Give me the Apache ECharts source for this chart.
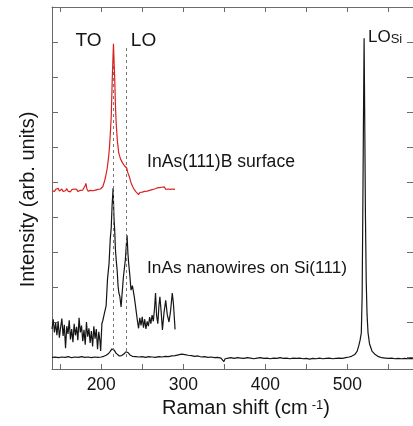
<!DOCTYPE html>
<html>
<head>
<meta charset="utf-8">
<script src="https://cdn.jsdelivr.net/npm/echarts@6/dist/echarts.min.js"></script>
<style>
  html, body { margin: 0; padding: 0; background: #fff; }
  #chart { width: 413px; height: 426px; }
</style>
</head>
<body>
<div id="chart"></div>
<script>
// Raman spectra: [shift (cm^-1), intensity (arb. units, offset)]
const surfaceSpectrum = [
  [140,4.75],[141.5,4.80],[143,4.73],[144.5,4.79],[146,4.76],[147.5,4.82],[149,4.74],[150.5,4.78],[152,4.80],
  [153.5,4.73],[155,4.78],[156.5,4.75],[158,4.81],[159.5,4.74],[161,4.77],[162.5,4.72],[164,4.78],[165.5,4.75],
  [167,4.80],[168.5,4.76],[170,4.79],[171.5,4.73],[173,4.78],[174.5,4.76],[176,4.81],[177.5,4.77],[179,4.82],
  [180.5,4.90],[181.3,4.96],[182.5,4.80],[184,4.74],[185.5,4.70],[187,4.76],[188.5,4.71],[190,4.75],[191.5,4.72],
  [193,4.77],[194.5,4.74],[196,4.79],[197.5,4.77],[199,4.80],[200.5,4.83],[202,4.87],[204,5.02],[205.3,5.15],
  [207,5.35],[208.1,5.54],[209.2,5.76],[210.1,6.01],[211.2,6.43],[212.2,6.87],[213.4,7.91],[214.9,8.95],
  [216.5,7.91],[217.3,7.21],[218.2,6.69],[219.7,6.17],[221.3,5.83],[223.5,5.66],[226.2,5.54],[228,5.47],
  [229.4,5.51],[231,5.40],[232.5,5.26],[234.3,5.15],[236.3,4.98],[238.3,4.87],[240.3,4.78],[242.4,4.72],
  [244,4.69],[245.5,4.64],[247,4.70],[248.5,4.66],[250,4.71],[251.5,4.67],[253,4.73],[254.5,4.69],[256,4.74],
  [257.5,4.70],[259,4.76],[260.5,4.73],[262,4.78],[263.5,4.74],[265,4.80],[266.5,4.77],[268,4.83],[269.5,4.78],
  [271,4.84],[272.5,4.80],[274,4.85],[275.5,4.81],[277,4.86],[278.5,4.79],[280,4.84],[281.5,4.80],[283,4.85],
  [284.5,4.79],[286,4.83],[287.5,4.80],[289,4.82],[290,4.79]
];

const nanowireSpectrum = [
  [140,0.80],[141.5,1.08],[143,0.70],[144.5,0.98],[146,0.62],[147.5,1.02],[149,0.55],[150.5,0.85],[152,1.10],
  [153.5,0.60],[155,0.92],[156.5,0.25],[158,0.88],[159.5,0.66],[161,1.05],[162.5,0.50],[164,0.80],[165.5,0.42],
  [167,0.95],[168.5,0.62],[170,0.86],[171.5,0.48],[173,1.12],[174.5,0.70],[176,0.90],[177.5,0.45],[179,0.78],
  [180.5,0.35],[182,1.00],[183.5,0.58],[185,0.82],[186.5,0.40],[188,0.74],[189.5,0.30],[191,0.88],[192.5,0.52],
  [194,0.80],[195.5,0.22],[197,0.72],[198.5,0.45],[199.3,0.17],[200.8,0.95],[202,1.05],[204,1.26],[206,1.47],
  [207.7,2.24],[209.5,2.66],[211,3.38],[212.2,3.69],[213.2,4.31],[214.5,4.83],[215.5,4.00],[216.4,3.63],
  [217.3,3.07],[218.3,2.76],[219.5,2.45],[220.5,2.04],[221.5,1.83],[222.7,1.73],[224.2,1.43],[225.5,1.83],
  [227,2.28],[228.3,2.55],[229.4,2.77],[230.5,3.17],[231.5,3.48],[232.5,2.97],[233.4,2.69],[234.8,2.35],
  [236.3,1.91],[238,2.04],[240.3,1.72],[242,1.42],[244,1.05],[245.5,0.82],[247,1.12],[248.5,0.90],[250,1.15],
  [251.5,0.84],[253,1.08],[254.5,0.80],[256,1.02],[257.5,0.88],[259,1.14],[260.5,0.95],[262,1.20],[263.5,1.02],
  [265,1.40],[266.2,1.83],[267.5,1.18],[269,0.95],[270.3,1.45],[271.5,1.72],[273,1.31],[274.6,0.77],[276.5,1.26],
  [278.6,1.62],[280.5,1.21],[282.6,1.00],[284.5,1.31],[286.6,1.83],[288,1.52],[290,0.79]
];

const substrateSpectrum = [
  [140,-0.01],[144,0.00],[148,-0.02],[152,0.00],[156,-0.01],[160,0.01],[164,-0.02],[168,0.00],[172,-0.01],
  [176,0.01],[180,-0.01],[184,0.00],[188,-0.02],[192,0.00],[196,-0.01],[200,0.00],[203,0.02],[206,0.05],
  [209,0.10],[211,0.16],[213,0.23],[214.5,0.26],[216,0.19],[218,0.11],[220,0.06],[222,0.03],[225,0.04],
  [228,0.09],[230,0.15],[231.3,0.18],[233,0.12],[235,0.06],[238,0.02],[242,0.01],[246,0.00],[250,0.01],
  [254,-0.01],[258,0.01],[262,0.00],[266,-0.01],[270,0.01],[274,0.00],[278,0.02],[282,0.01],[286,0.03],
  [290,0.04],[294,0.06],[298,0.08],[302,0.07],[306,0.05],[310,0.04],[314,0.02],[318,0.03],[322,0.00],
  [326,0.01],[330,-0.01],[334,0.00],[338,-0.02],[342,-0.01],[346,-0.03],[348,-0.07],[349.5,-0.13],[351,-0.05],
  [353,-0.09],[355,-0.03],[358,-0.02],[362,-0.04],[366,-0.02],[370,-0.03],[374,-0.04],[378,-0.02],[382,-0.03],
  [386,-0.05],[390,-0.03],[394,-0.02],[398,-0.04],[402,-0.03],[406,-0.05],[410,-0.03],[414,-0.04],[418,-0.02],
  [422,-0.04],[426,-0.03],[430,-0.05],[434,-0.03],[438,-0.04],[442,-0.03],[446,-0.05],[450,-0.04],[454,-0.06],
  [458,-0.04],[462,-0.05],[466,-0.03],[470,-0.05],[474,-0.04],[478,-0.03],[482,-0.05],[486,-0.04],[490,-0.03],
  [494,-0.04],[498,-0.02],[502,0.00],[505,0.02],[509,0.07],[512,0.17],[514,0.33],[515.5,0.48],[517,0.69],
  [518,1.72],[518.7,3.79],[519.5,6.38],[520.4,9.11],[521.2,6.69],[522,4.10],[523,2.14],[524,1.21],[525.2,0.69],
  [527,0.38],[530,0.17],[534,0.07],[538,0.01],[542,-0.02],[546,-0.03],[550,-0.04],[554,-0.03],[558,-0.05],
  [562,-0.04],[566,-0.05],[570,-0.04],[574,-0.05],[578,-0.04],[580,-0.05]
];

// InAs phonon positions (TO, LO) and the intensity span of their guide lines
const phononShifts = [215, 231];
const phononLineSpan = [0, 8.9];

// Axis ticks and labels
const shiftTicks = [150, 200, 250, 300, 350, 400, 450, 500, 550];
const shiftLabels = [200, 300, 400, 500];
const intensityTicks = [0, 1, 2, 3, 4, 5, 6, 7, 8, 9, 10];

const FONT = 'Liberation Sans, Arial, sans-serif';
const AXIS_GREY = '#6a6a6a';
const INK = '#151515';

const chart = echarts.init(document.getElementById('chart'), null, { renderer: 'canvas' });

function frameAxis(extra) {
  return Object.assign({
    axisLine: { show: true, onZero: false, lineStyle: { color: AXIS_GREY, width: 1 } },
    splitLine: { show: false },
  }, extra);
}

const guideLines = phononShifts.map(s => [
  { coord: [s, phononLineSpan[0]] },
  { coord: [s, phononLineSpan[1]] }
]);

chart.setOption({
  animation: false,
  backgroundColor: '#fff',
  grid: { left: 52, top: 7, width: 364, bottom: 57 },
  xAxis: [
    frameAxis({
      type: 'value', position: 'bottom', min: 140, max: 580,
      axisTick: { show: true, inside: true, length: 5, customValues: shiftTicks,
                  lineStyle: { color: AXIS_GREY } },
      axisLabel: { show: true, customValues: shiftLabels, margin: 7,
                   fontFamily: FONT, fontSize: 17.5, color: INK },
      name: 'Raman shift (cm{s|-1})',
      nameLocation: 'middle', nameGap: 27,
      nameTextStyle: {
        fontFamily: FONT, fontSize: 20, color: INK, padding: [0, 0, 0, 27],
        rich: { s: { fontFamily: FONT, fontSize: 13, color: INK, verticalAlign: 'top', padding: [0, 0, 0, 4] } }
      }
    }),
    frameAxis({
      type: 'value', position: 'top', min: 140, max: 580,
      axisTick: { show: true, inside: true, length: 5, customValues: shiftTicks,
                  lineStyle: { color: AXIS_GREY } },
      axisLabel: { show: false }
    })
  ],
  yAxis: [
    frameAxis({
      type: 'value', position: 'left', min: -12 / 35, max: 10,
      axisTick: { show: true, inside: true, length: 6, customValues: intensityTicks,
                  lineStyle: { color: AXIS_GREY } },
      axisLabel: { show: false },
      name: 'Intensity (arb. units)',
      nameLocation: 'middle', nameGap: 14,
      nameTextStyle: { fontFamily: FONT, fontSize: 20, color: INK, padding: [0, 23, 0, 0] }
    }),
    frameAxis({
      type: 'value', position: 'right', min: -12 / 35, max: 10,
      axisTick: { show: true, inside: true, length: 6, customValues: intensityTicks,
                  lineStyle: { color: AXIS_GREY } },
      axisLabel: { show: false }
    })
  ],
  series: [
    {
      name: 'InAs/Si(111)', type: 'line', data: substrateSpectrum,
      showSymbol: false, silent: true,
      lineStyle: { color: INK, width: 1.2 },
      markLine: {
        silent: true, symbol: ['none', 'none'], label: { show: false },
        lineStyle: { color: '#777', width: 1, type: [3, 3] },
        data: guideLines
      },
      z: 3
    },
    {
      name: 'InAs nanowires on Si(111)', type: 'line', data: nanowireSpectrum,
      showSymbol: false, silent: true,
      lineStyle: { color: INK, width: 1.2 }, z: 4
    },
    {
      name: 'InAs(111)B surface', type: 'line', data: surfaceSpectrum,
      showSymbol: false, silent: true,
      lineStyle: { color: '#d9221f', width: 1.2 }, z: 5
    }
  ],
  graphic: [
    { type: 'text', x: 88.5, y: 41, style: { text: 'TO', fontFamily: FONT, fontSize: 19, fill: INK, align: 'center', verticalAlign: 'middle' } },
    { type: 'text', x: 143.5, y: 41, style: { text: 'LO', fontFamily: FONT, fontSize: 19, fill: INK, align: 'center', verticalAlign: 'middle' } },
    { type: 'text', x: 368, y: 37, style: {
        text: '{a|LO}{b|Si}', fill: INK, align: 'left', verticalAlign: 'middle',
        rich: { a: { fontFamily: FONT, fontSize: 17, fill: INK }, b: { fontFamily: FONT, fontSize: 13, fill: INK, verticalAlign: 'bottom' } }
      } },
    { type: 'text', x: 147, y: 162, style: { text: 'InAs(111)B surface', fontFamily: FONT, fontSize: 17.6, fill: INK, align: 'left', verticalAlign: 'middle' } },
    { type: 'text', x: 147, y: 268, style: { text: 'InAs nanowires on Si(111)', fontFamily: FONT, fontSize: 17.3, fill: INK, align: 'left', verticalAlign: 'middle' } }
  ]
});
</script>
</body>
</html>
